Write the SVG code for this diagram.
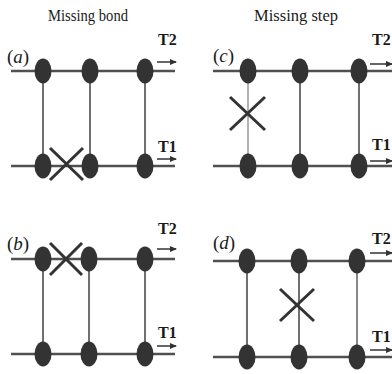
<svg xmlns="http://www.w3.org/2000/svg" width="392" height="374" viewBox="0 0 392 374">
<style>
.h{stroke:#505050;stroke-width:2.5;fill:none}
.v{stroke:#707070;stroke-width:2;fill:none}
.dot{fill:#333}
.x{stroke:#333;stroke-width:3;fill:none}
.ar{stroke:#333;stroke-width:1.5;fill:none;marker-end:url(#ah)}
.t{font-family:"Liberation Serif",serif;font-weight:bold;font-size:16px;fill:#1a1a1a}
.lb{font-family:"Liberation Serif",serif;font-size:19px;fill:#1a1a1a}
.ti{font-family:"Liberation Serif",serif;font-size:17px;fill:#1a1a1a}
</style>
<defs>
<marker id="ah" markerWidth="8" markerHeight="8" refX="6" refY="3" orient="auto" markerUnits="userSpaceOnUse">
<path d="M0,0 L7,3 L0,6 Z" fill="#333"/>
</marker>
</defs>
<g id="titles">
<text class="ti" x="88" y="21" text-anchor="middle" textLength="80" lengthAdjust="spacingAndGlyphs">Missing bond</text>
<text class="ti" x="296" y="21" text-anchor="middle" textLength="84" lengthAdjust="spacingAndGlyphs">Missing step</text>
</g>
<g id="connectors">
<line class="h" x1="11" y1="71" x2="175" y2="71"/>
<line class="h" x1="11" y1="166" x2="175" y2="166"/>
<line class="v" x1="43" y1="71" x2="43" y2="166"/>
<line class="v" x1="90" y1="71" x2="90" y2="166"/>
<line class="v" x1="145" y1="71" x2="145" y2="166"/>
<line class="ar" x1="157" y1="62" x2="176" y2="62"/>
<line class="ar" x1="157" y1="159" x2="176" y2="159"/>
<line class="h" x1="213" y1="71" x2="392" y2="71"/>
<line class="h" x1="213" y1="166" x2="392" y2="166"/>
<line class="v" x1="248" y1="71" x2="248" y2="166" style="stroke:#999;stroke-width:1.5"/>
<line class="v" x1="300" y1="71" x2="300" y2="166"/>
<line class="v" x1="359" y1="71" x2="359" y2="166"/>
<line class="ar" x1="370" y1="64" x2="392" y2="64"/>
<line class="ar" x1="370" y1="161" x2="392" y2="161"/>
<line class="h" x1="11" y1="259" x2="175" y2="259"/>
<line class="h" x1="11" y1="354" x2="175" y2="354"/>
<line class="v" x1="43" y1="259" x2="43" y2="354"/>
<line class="v" x1="89" y1="259" x2="89" y2="354"/>
<line class="v" x1="145" y1="259" x2="145" y2="354"/>
<line class="ar" x1="157" y1="249" x2="176" y2="249"/>
<line class="ar" x1="157" y1="346" x2="176" y2="346"/>
<line class="h" x1="213" y1="261" x2="392" y2="261"/>
<line class="h" x1="213" y1="357" x2="392" y2="357"/>
<line class="v" x1="247" y1="261" x2="247" y2="357"/>
<line class="v" x1="299" y1="261" x2="299" y2="357"/>
<line class="v" x1="357" y1="261" x2="357" y2="357" style="stroke:#888"/>
<line class="ar" x1="370" y1="253" x2="392" y2="253"/>
<line class="ar" x1="370" y1="350" x2="392" y2="350"/>
</g>
<g id="panel-a">
<text class="lb" x="7" y="63">(<tspan font-style="italic">a</tspan>)</text>
<text class="t" x="158" y="45">T2</text>
<text class="t" x="158" y="152">T1</text>
<ellipse class="dot" cx="43" cy="71" rx="8.5" ry="12.5"/>
<ellipse class="dot" cx="90" cy="71" rx="8.5" ry="12.5"/>
<ellipse class="dot" cx="145" cy="71" rx="8.5" ry="12.5"/>
<ellipse class="dot" cx="43" cy="166" rx="8.5" ry="12.5"/>
<ellipse class="dot" cx="90" cy="166" rx="8.5" ry="12.5"/>
<ellipse class="dot" cx="145" cy="166" rx="8.5" ry="12.5"/>
<path class="x" d="M50,148 L83,180 M50,180 L83,148"/>
</g>
<g id="panel-c">
<text class="lb" x="213" y="62">(<tspan font-style="italic">c</tspan>)</text>
<text class="t" x="372" y="45">T2</text>
<text class="t" x="372" y="150">T1</text>
<ellipse class="dot" cx="248" cy="71" rx="8.5" ry="12.5"/>
<ellipse class="dot" cx="300" cy="71" rx="8.5" ry="12.5"/>
<ellipse class="dot" cx="359" cy="71" rx="8.5" ry="12.5"/>
<ellipse class="dot" cx="248" cy="166" rx="8.5" ry="12.5"/>
<ellipse class="dot" cx="300" cy="166" rx="8.5" ry="12.5"/>
<ellipse class="dot" cx="359" cy="166" rx="8.5" ry="12.5"/>
<path class="x" d="M230,97 L265,130 M230,130 L265,97"/>
</g>
<g id="panel-b">
<text class="lb" x="7" y="250">(<tspan font-style="italic">b</tspan>)</text>
<text class="t" x="158" y="234">T2</text>
<text class="t" x="158" y="338">T1</text>
<ellipse class="dot" cx="43" cy="259" rx="8.5" ry="12.5"/>
<ellipse class="dot" cx="89" cy="259" rx="8.5" ry="12.5"/>
<ellipse class="dot" cx="145" cy="259" rx="8.5" ry="12.5"/>
<ellipse class="dot" cx="43" cy="354" rx="8.5" ry="12.5"/>
<ellipse class="dot" cx="89" cy="354" rx="8.5" ry="12.5"/>
<ellipse class="dot" cx="145" cy="354" rx="8.5" ry="12.5"/>
<path class="x" d="M50,243 L82,275 M50,275 L82,243"/>
</g>
<g id="panel-d">
<text class="lb" x="213" y="249">(<tspan font-style="italic">d</tspan>)</text>
<text class="t" x="372" y="244">T2</text>
<text class="t" x="372" y="342">T1</text>
<ellipse class="dot" cx="247" cy="261" rx="8.5" ry="12.5"/>
<ellipse class="dot" cx="299" cy="261" rx="8.5" ry="12.5"/>
<ellipse class="dot" cx="357" cy="261" rx="8.5" ry="12.5"/>
<ellipse class="dot" cx="247" cy="357" rx="8.5" ry="12.5"/>
<ellipse class="dot" cx="299" cy="357" rx="8.5" ry="12.5"/>
<ellipse class="dot" cx="357" cy="357" rx="8.5" ry="12.5"/>
<path class="x" d="M280,289 L314,321 M280,321 L314,289"/>
</g>
</svg>
